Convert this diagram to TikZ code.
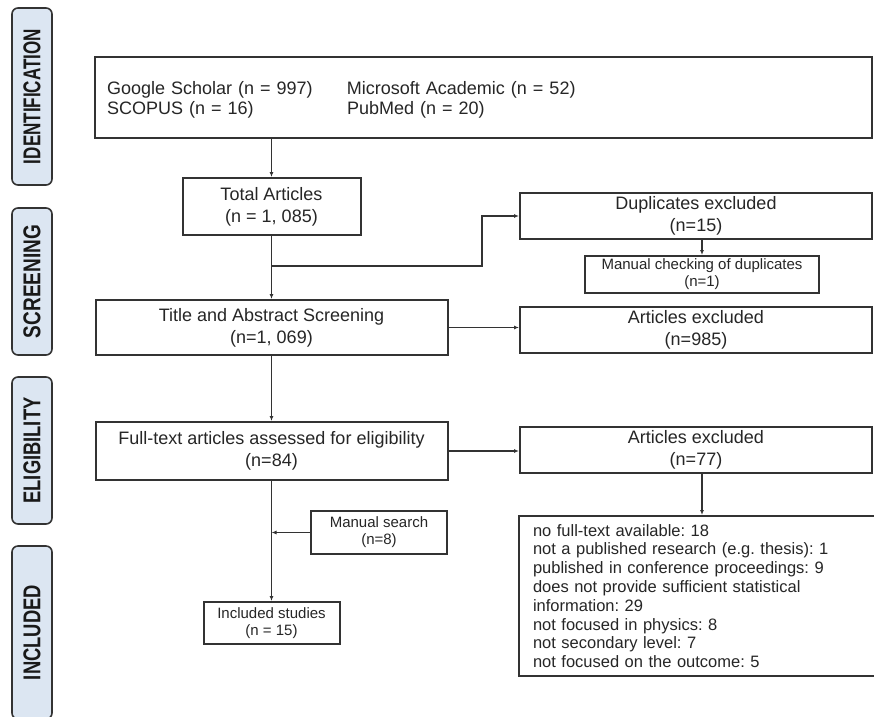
\documentclass[tikz,border=0pt]{standalone}
\usepackage{graphicx}
\usepackage{fontspec}
\setmainfont{Liberation Sans}
\frenchspacing
\usetikzlibrary{arrows.meta, positioning, calc}
\definecolor{phasefill}{HTML}{DCE6F2}
\definecolor{edgegray}{HTML}{333333}
\newcommand{\phaselabel}[2]{\resizebox{#1}{17pt}{#2}}
\tikzset{
        x=1pt, y=-1pt, % one unit per pixel, y grows downwards
        >={Latex[length=5pt,width=4pt]}, % small filled arrow heads
        line/.style={draw=edgegray, line width=1.1pt}, % connectors
        box/.style={draw=edgegray, line width=2pt, fill=white, align=center, inner sep=0pt, text=black!85, font=\fontsize{18}{22}\selectfont}, % flow boxes
        smallbox/.style={box, font=\fontsize{15}{16.8}\selectfont}, % smaller flow boxes
        phase/.style={draw=edgegray, line width=1.6pt, fill=phasefill, rounded corners=6pt, rotate=90, minimum height=40pt, inner sep=0pt, font=\bfseries, text=black!90}, % stage labels on the left
    }
\begin{document}
\begin{tikzpicture}
    \clip (0,0) rectangle (874,716);
    % stages
    \node[phase, minimum width=177pt] (identification) at (32,96.5) {\phaselabel{135pt}{IDENTIFICATION}};
    \node[phase, minimum width=147pt] (screening) at (32,281.5) {\phaselabel{113pt}{SCREENING}};
    \node[phase, minimum width=147pt] (eligibility) at (32,450.5) {\phaselabel{106pt}{ELIGIBILITY}};
    \node[phase, minimum width=173pt] (included) at (32,632.5) {\phaselabel{95pt}{INCLUDED}};
    % main column
    \node[box, minimum width=777pt, minimum height=81pt, text width=753pt, align=left, font=\fontsize{18}{20}\selectfont] (src) at (483.5,97.5)
      {\raisebox{-2.5pt}[\height][\depth]{\begin{tabular}{@{}p{240pt}@{}l@{}}
        Google Scholar (n = 997) & Microsoft Academic (n = 52)\\
        SCOPUS (n = 16) & PubMed (n = 20)
      \end{tabular}}};
    \node[box, minimum width=178pt, minimum height=57pt] (total) at (271.5,206.5) {Total Articles\\(n = 1, 085)};
    \node[box, minimum width=352pt, minimum height=55pt] (title) at (271.5,327.5) {Title and Abstract Screening\\(n=1, 069)};
    \node[box, minimum width=352pt, minimum height=58pt] (full) at (271.5,451) {Full-text articles assessed for eligibility\\(n=84)};
    \node[smallbox, minimum width=136pt, minimum height=43pt] (search) at (379,532.5) {Manual search\\(n=8)};
    \node[smallbox, minimum width=136pt, minimum height=42pt] (incl) at (271.5,623) {Included studies\\(n = 15)};
    % right column
    \node[box, minimum width=352pt, minimum height=46pt] (dup) at (696,216) {Duplicates excluded\\(n=15)};
    \node[smallbox, minimum width=234pt, minimum height=37pt] (check) at (702,274.5) {Manual checking of duplicates\\(n=1)};
    \node[box, minimum width=352pt, minimum height=46pt] (excl1) at (696,330) {Articles excluded\\(n=985)};
    \node[box, minimum width=352pt, minimum height=46pt] (excl2) at (696,450) {Articles excluded\\(n=77)};
    \node[box, anchor=north west, align=left, text width=334pt, inner xsep=14pt, minimum height=160pt, font=\fontsize{16.5}{18.8}\selectfont] (reasons) at (518,515)
      {no full-text available: 18\\
       not a published research (e.g. thesis): 1\\
       published in conference proceedings: 9\\
       does not provide sufficient statistical\\
       information: 29\\
       not focused in physics: 8\\
       not secondary level: 7\\
       not focused on the outcome: 5};
    % connectors
    \coordinate (split) at (271.5,266);
    \draw[line, ->] (total.north |- src.south) -- (total.north);
    \draw[line, ->] (total.south) -- (title.north);
    \draw[line, ->] (split) -| ([xshift=-37pt]dup.west) -- (dup.west);
    \draw[line, ->] (dup.south -| check.north) -- (check.north);
    \draw[line, ->] (title.east) -- (title.east -| excl1.west);
    \draw[line, ->] (title.south) -- (full.north);
    \draw[line, ->] (full.east) -- (full.east -| excl2.west);
    \draw[line, ->] (excl2.south -| check.north) -- (reasons.north -| check.north);
    \draw[line, ->] (full.south) -- (incl.north);
    \draw[line, ->] (search.west) -- (search.west -| full.south);
\end{tikzpicture}
\end{document}
